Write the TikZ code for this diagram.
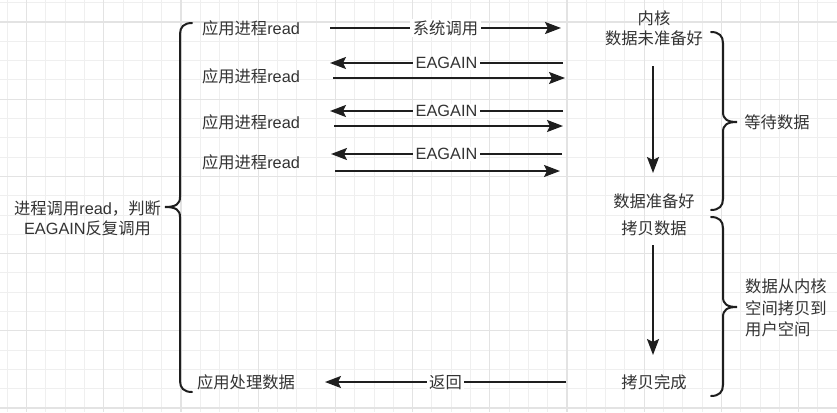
\documentclass[tikz,border=0pt]{standalone}
\usepackage{fontspec}
\setmainfont{Liberation Sans}
\newfontfamily\cjk{Noto Sans CJK SC}
\usetikzlibrary{arrows.meta}
\newcommand\zhtxt[1]{{\cjk #1}}
\definecolor{textgray}{HTML}{333333}
\definecolor{linedark}{HTML}{1E1E1E}
\definecolor{gridminor}{HTML}{EFEFEF}
\definecolor{gridmajor}{HTML}{E3E3E3}
\tikzset{
  txt/.style={text=textgray, font=\fontsize{16.3}{20}\selectfont, inner sep=0pt, align=center},
  lbl/.style={txt, fill=white, inner xsep=2.5pt, inner ysep=1pt},
  arr/.style={draw=linedark, line width=2pt, -{Stealth[length=16pt, width=12pt, inset=3pt]}},
  bracestyle/.style={draw=linedark, line width=2pt, line cap=round},
  gminor/.style={draw=gridminor, line width=1pt},
  gmajor/.style={draw=gridmajor, line width=1.3pt}
}
\begin{document}
\begin{tikzpicture}[x=1pt, y=-1pt]
\useasboundingbox (0,0) rectangle (837,412);
\fill[white] (0,0) rectangle (837,412);
% grid
\foreach \i in {0,...,43} {
  \pgfmathsetmacro\xx{7.3+\i*19.3}
  \draw[gminor] (\xx,0) -- (\xx,412);
}
\foreach \i in {0,...,21} {
  \pgfmathsetmacro\yy{2.7+\i*19.3}
  \draw[gminor] (0,\yy) -- (837,\yy);
}
\foreach \i in {0,...,10} {
  \pgfmathsetmacro\xx{26.6+\i*77.2}
  \draw[gmajor] (\xx,0) -- (\xx,412);
}
\foreach \i in {0,...,5} {
  \pgfmathsetmacro\yy{22+\i*77.2}
  \draw[gmajor] (0,\yy) -- (837,\yy);
}

% left column texts
\node[txt] (L1) at (251,28) {\zhtxt{应用进程}read};
\node[txt] (L2) at (251,76) {\zhtxt{应用进程}read};
\node[txt] (L3) at (251,122) {\zhtxt{应用进程}read};
\node[txt] (L4) at (251,162) {\zhtxt{应用进程}read};
\node[txt] (L5) at (246,382) {\zhtxt{应用处理数据}};
\node[txt] (LL) at (87.5,218) {\zhtxt{进程调用}read\zhtxt{，判断}\\EAGAIN\zhtxt{反复调用}};

% kernel column texts
\node[txt] (K0) at (654,28) {\zhtxt{内核}\\\zhtxt{数据未准备好}};
\node[txt] (K1) at (654,201) {\zhtxt{数据准备好}};
\node[txt] (K2) at (654,228) {\zhtxt{拷贝数据}};
\node[txt] (K3) at (654,382) {\zhtxt{拷贝完成}};

% right texts
\node[txt] (R1) at (777,122) {\zhtxt{等待数据}};
\node[txt, anchor=west, align=left, font=\fontsize{16.3}{21.5}\selectfont] (R2) at (745,308) {\zhtxt{数据从内核}\\\zhtxt{空间拷贝到}\\\zhtxt{用户空间}};

% arrow end points
\coordinate (a1s) at (330,28);   \coordinate (a1e) at (561,28);
\coordinate (b2s) at (563,63);   \coordinate (b2e) at (330,63);
\coordinate (c2s) at (333,78);   \coordinate (c2e) at (565,78);
\coordinate (b3s) at (563,111);  \coordinate (b3e) at (330,111);
\coordinate (c3s) at (334,126);  \coordinate (c3e) at (563,126);
\coordinate (b4s) at (562,154);  \coordinate (b4e) at (331,154);
\coordinate (c4s) at (335,171);  \coordinate (c4e) at (560,171);
\coordinate (d1s) at (653,66);   \coordinate (d1e) at (653,173);
\coordinate (d2s) at (653,245);  \coordinate (d2e) at (653,355);
\coordinate (r1s) at (566,382);  \coordinate (r1e) at (325,382);

\draw[arr] (a1s) -- node[lbl] {\zhtxt{系统调用}} (a1e);
\draw[arr] (b2s) -- node[lbl] {EAGAIN} (b2e);
\draw[arr] (c2s) -- (c2e);
\draw[arr] (b3s) -- node[lbl] {EAGAIN} (b3e);
\draw[arr] (c3s) -- (c3e);
\draw[arr] (b4s) -- node[lbl] {EAGAIN} (b4e);
\draw[arr] (c4s) -- (c4e);
\draw[arr] (d1s) -- (d1e);
\draw[arr] (d2s) -- (d2e);
\draw[arr] (r1s) -- node[lbl] {\zhtxt{返回}} (r1e);

% braces
\draw[bracestyle] (192,23) .. controls (184,23) and (180,27) .. (180,34)
  -- (180,197) .. controls (180,204) and (176,207) .. (165,207)
  .. controls (176,207) and (180,210) .. (180,217)
  -- (180,381) .. controls (180,388) and (184,392) .. (192,392);
\draw[bracestyle] (711,32) .. controls (719,32) and (723,36) .. (723,43)
  -- (723,112) .. controls (723,119) and (727,122) .. (737,122)
  .. controls (727,122) and (723,125) .. (723,132)
  -- (723,199) .. controls (723,206) and (719,210) .. (711,210);
\draw[bracestyle] (711,217) .. controls (719,217) and (723,221) .. (723,228)
  -- (723,297) .. controls (723,304) and (727,307) .. (737,307)
  .. controls (727,307) and (723,310) .. (723,317)
  -- (723,385) .. controls (723,392) and (719,396) .. (711,396);
\end{tikzpicture}
\end{document}
